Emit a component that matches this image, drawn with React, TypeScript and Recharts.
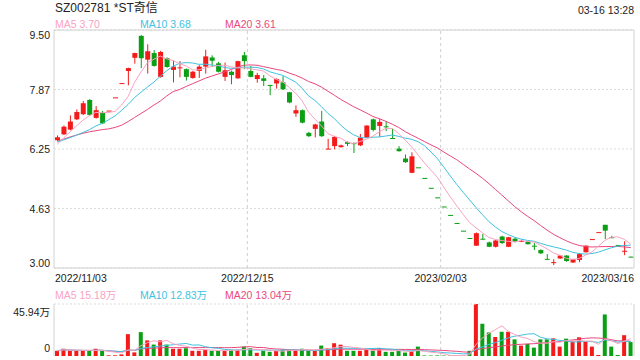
import React from 'react';
import { ComposedChart, Bar, Line, XAxis, YAxis, CartesianGrid, ReferenceLine, Cell } from 'recharts';

const dates = [
  '2022/11/03','2022/11/04','2022/11/07','2022/11/08','2022/11/09','2022/11/10','2022/11/11','2022/11/14','2022/11/15','2022/11/16',
  '2022/11/17','2022/11/18','2022/11/21','2022/11/22','2022/11/23','2022/11/24','2022/11/25','2022/11/28','2022/11/29','2022/11/30',
  '2022/12/01','2022/12/02','2022/12/05','2022/12/06','2022/12/07','2022/12/08','2022/12/09','2022/12/12','2022/12/13','2022/12/14',
  '2022/12/15','2022/12/16','2022/12/19','2022/12/20','2022/12/21','2022/12/22','2022/12/23','2022/12/26','2022/12/27','2022/12/28',
  '2022/12/29','2022/12/30','2023/01/03','2023/01/04','2023/01/05','2023/01/06','2023/01/09','2023/01/10','2023/01/11','2023/01/12',
  '2023/01/13','2023/01/16','2023/01/17','2023/01/18','2023/01/19','2023/01/20','2023/01/30','2023/01/31','2023/02/01','2023/02/02',
  '2023/02/03','2023/02/06','2023/02/07','2023/02/08','2023/02/09','2023/02/10','2023/02/13','2023/02/14','2023/02/15','2023/02/16',
  '2023/02/17','2023/02/20','2023/02/21','2023/02/22','2023/02/23','2023/02/24','2023/02/27','2023/02/28','2023/03/01','2023/03/02',
  '2023/03/03','2023/03/06','2023/03/07','2023/03/08','2023/03/09','2023/03/10','2023/03/13','2023/03/14','2023/03/15','2023/03/16',
];

const opens = [
  6.49, 6.65, 6.78, 7.06, 7.20, 7.59, 7.10, 7.24, 7.30, 7.66,
  8.05, 8.38, 8.74, 9.34, 8.69, 8.87, 8.22, 8.73, 8.41, 8.47,
  8.43, 8.19, 8.38, 8.50, 8.75, 8.59, 8.22, 8.36, 8.18, 8.81,
  8.38, 8.16, 8.18, 8.00, 8.04, 8.07, 7.80, 7.22, 7.31, 6.69,
  6.80, 7.00, 6.25, 6.33, 6.30, 6.44, 6.41, 6.35, 6.56, 7.06,
  6.88, 6.87, 6.55, 6.26, 5.99, 5.60, 5.75, 5.46, 5.19, 4.93,
  4.68, 4.45, 4.23, 4.02, 3.82, 3.61, 3.80, 3.70, 3.58, 3.86,
  3.58, 3.80, 3.73, 3.72, 3.61, 3.49, 3.25, 3.15, 3.26, 3.34,
  3.15, 3.22, 3.43, 3.79, 3.98, 4.18, 3.84, 3.63, 3.45, 3.31,
];
const closes = [
  6.57, 6.86, 7.00, 7.26, 7.50, 7.18, 7.31, 6.95, 7.30, 7.66,
  8.05, 8.46, 8.87, 8.73, 8.92, 8.52, 8.90, 8.49, 8.50, 8.48,
  8.22, 8.36, 8.50, 8.78, 8.66, 8.36, 8.40, 8.27, 8.65, 8.65,
  8.22, 8.27, 8.11, 7.99, 8.16, 7.88, 7.52, 7.31, 6.97, 6.60,
  6.92, 6.60, 6.26, 6.58, 6.35, 6.39, 6.40, 6.56, 6.89, 6.77,
  6.99, 6.86, 6.54, 6.19, 5.89, 6.05, 5.75, 5.46, 5.19, 4.93,
  4.68, 4.45, 4.23, 4.02, 3.82, 3.95, 3.79, 3.58, 3.75, 3.68,
  3.84, 3.72, 3.74, 3.65, 3.60, 3.40, 3.24, 3.16, 3.34, 3.19,
  3.24, 3.38, 3.61, 3.79, 3.98, 4.02, 3.82, 3.63, 3.47, 3.30,
];
const highs = [
  6.62, 6.89, 7.17, 7.33, 7.56, 7.61, 7.42, 7.29, 7.30, 7.66,
  8.05, 8.47, 8.88, 9.36, 9.11, 8.95, 8.93, 8.75, 8.66, 8.65,
  8.45, 8.38, 8.54, 8.96, 8.81, 8.63, 8.61, 8.39, 8.66, 8.90,
  8.52, 8.33, 8.27, 8.00, 8.18, 8.24, 7.81, 7.44, 7.33, 6.72,
  6.94, 7.29, 6.53, 6.61, 6.37, 6.46, 6.43, 6.66, 6.90, 7.08,
  7.08, 7.01, 6.80, 6.33, 6.10, 6.16, 5.75, 5.46, 5.19, 4.93,
  4.68, 4.45, 4.23, 4.02, 3.82, 3.97, 3.93, 3.72, 3.77, 3.88,
  3.85, 3.83, 3.78, 3.73, 3.68, 3.51, 3.38, 3.24, 3.36, 3.35,
  3.25, 3.41, 3.62, 3.79, 3.98, 4.18, 3.88, 3.63, 3.73, 3.31,
];
const lows = [
  6.47, 6.63, 6.76, 7.04, 7.18, 7.16, 7.08, 6.93, 7.30, 7.66,
  8.05, 7.99, 8.58, 8.46, 8.31, 8.50, 8.20, 8.47, 8.07, 8.21,
  8.12, 8.17, 8.19, 8.31, 8.49, 8.34, 8.11, 8.02, 8.17, 8.43,
  8.21, 8.06, 7.97, 7.72, 7.90, 7.86, 7.50, 7.13, 6.95, 6.58,
  6.57, 6.58, 6.25, 6.24, 6.29, 6.33, 6.14, 6.33, 6.55, 6.73,
  6.58, 6.74, 6.53, 6.18, 5.87, 5.59, 5.75, 5.46, 5.19, 4.93,
  4.68, 4.45, 4.23, 4.02, 3.82, 3.60, 3.78, 3.57, 3.56, 3.66,
  3.57, 3.70, 3.71, 3.64, 3.49, 3.38, 3.23, 3.08, 3.25, 3.17,
  3.14, 3.16, 3.42, 3.79, 3.98, 3.79, 3.82, 3.63, 3.35, 3.30,
];
// volume in 万
const volumes = [
  4.6, 6.4, 4.6, 4.6, 4.6, 4.6, 6.4, 4.6, 0.6, 0.6,
  1.4, 19.3, 3.2, 21.1, 13.8, 10.1, 13.8, 10.1, 6.4, 6.4,
  6.9, 4.6, 4.6, 5.5, 4.6, 4.6, 4.6, 5.5, 5.5, 8.3,
  6.9, 2.8, 4.6, 3.7, 4.6, 5.5, 5.5, 5.5, 6.4, 4.6,
  4.6, 9.2, 7.0, 11.3, 10.0, 4.6, 4.6, 4.6, 5.8, 4.6,
  7.0, 3.7, 3.7, 4.6, 3.0, 4.6, 8.3, 0.5, 0.4, 0.5,
  0.4, 0.4, 0.4, 0.4, 4.6, 45.94, 28.5, 20.8, 16.8, 21.4,
  21.4, 14.7, 9.2, 10.7, 7.4, 14.7, 14.7, 15.6, 8.3, 15.3,
  12.9, 16.5, 12.9, 8.3, 0.9, 36.7, 8.3, 0.9, 18.4, 12.3,
];

const ma5Lead = [6.38, 6.55, 6.72, 6.88];
const ma10Lead = [6.44, 6.50, 6.56, 6.63, 6.70, 6.78, 6.88, 6.95, 7.05];
const ma20Lead = [6.46, 6.52, 6.58, 6.63, 6.68, 6.72, 6.75, 6.78, 6.80, 6.84, 6.90, 7.00, 7.11, 7.22, 7.33, 7.45, 7.56, 7.70, 7.82];

const priceTicks = [3, 4.625, 6.25, 7.875, 9.5];
const priceTickLabels = ['3.00', '4.63', '6.25', '7.87', '9.50'];
const volTicks = [0, 45.94];
const volTickLabels = ['0', '45.94万'];
const dateTickIdx = [0, 30, 60, 89];
const markerIdx = [30, 60];

const title = 'SZ002781 *ST奇信';
const timeLabel = '03-16 13:28';
const priceLegend = [
  { name: 'MA5', value: '3.70' },
  { name: 'MA10', value: '3.68' },
  { name: 'MA20', value: '3.61' },
];
const volLegend = [
  { name: 'MA5', value: '15.18万' },
  { name: 'MA10', value: '12.83万' },
  { name: 'MA20', value: '13.04万' },
];

const RED = '#f41a1a';
const GREEN = '#0a9f14';
const MA5C = '#f9a3c2';
const MA10C = '#3fc2df';
const MA20C = '#e9487d';
const BORDER = '#d2d2d2';
const GRID = '#dcdcdc';
const FONT = '"Liberation Sans", Arial, "Noto Sans CJK SC", sans-serif';
const legendColors = [MA5C, MA10C, MA20C];

const W = 640;
const PLOT_LEFT = 54;
const PLOT_RIGHT = 6;
const N = dates.length;
const HALF_BAND = (W - PLOT_LEFT - PLOT_RIGHT) / N / 2;

function movingAvg(vals: number[], n: number, lead?: number[]) {
  return vals.map((_, i) => {
    if (i < n - 1) {
      if (lead) return lead[i];
      const s = vals.slice(0, i + 1);
      return s.reduce((a, b) => a + b, 0) / s.length;
    }
    const s = vals.slice(i - n + 1, i + 1);
    return s.reduce((a, b) => a + b, 0) / n;
  });
}

const ma5 = movingAvg(closes, 5, ma5Lead);
const ma10 = movingAvg(closes, 10, ma10Lead);
const ma20 = movingAvg(closes, 20, ma20Lead);
const vma5 = movingAvg(volumes, 5);
const vma10 = movingAvg(volumes, 10);
const vma20 = movingAvg(volumes, 20);

const data = dates.map((d, i) => {
  const o = opens[i];
  const c = closes[i];
  const prev = i > 0 ? closes[i - 1] : o;
  const up = c > o ? true : c < o ? false : c >= prev;
  return {
    date: d,
    open: o,
    close: c,
    high: highs[i],
    low: lows[i],
    vol: volumes[i],
    up,
    ma5: ma5[i],
    ma10: ma10[i],
    ma20: ma20[i],
    vma5: vma5[i],
    vma10: vma10[i],
    vma20: vma20[i],
  };
});

const Candle = (props: any) => {
  const { x, y, width, height, payload } = props;
  if (x == null || y == null || !payload) return null;
  const { open, close, high, low, up } = payload;
  const cx = x + width / 2;
  const top = Math.min(y, y + (height || 0));
  const h = Math.abs(height || 0);
  const span = high - low;
  const ppu = span > 0 ? h / span : 0;
  const yOf = (v: number) => top + (high - v) * ppu;
  const color = up ? RED : GREEN;
  const bTop = yOf(Math.max(open, close));
  const bBot = yOf(Math.min(open, close));
  const bw = 5;
  return (
    <g>
      {span > 0 && <line x1={cx} x2={cx} y1={top} y2={top + h} stroke={color} strokeWidth={1} />}
      <rect x={cx - bw / 2} y={bTop} width={bw} height={Math.max(1, bBot - bTop)} fill={color} />
    </g>
  );
};

const PriceTick = (props: any) => {
  const { x, y, payload } = props;
  const idx = priceTicks.indexOf(payload.value);
  const label = priceTickLabels[idx] ?? '';
  let dy = 4;
  if (idx === priceTicks.length - 1) dy = 9;
  if (idx === 0) dy = -1;
  return (
    <text x={x} y={y + dy} textAnchor="end" fontSize={10.5} fill="#222" fontFamily={FONT}>
      {label}
    </text>
  );
};

const VolTick = (props: any) => {
  const { x, y, payload } = props;
  const idx = volTicks.indexOf(payload.value);
  const label = volTickLabels[idx] ?? '';
  const dy = idx === 0 ? -4 : 12;
  return (
    <text x={x} y={y + dy} textAnchor="end" fontSize={10.5} fill="#222" fontFamily={FONT}>
      {label}
    </text>
  );
};

const DateTick = (props: any) => {
  const { x, payload } = props;
  const i = dates.indexOf(payload.value);
  let anchor: 'start' | 'middle' | 'end' = 'middle';
  let tx = x - HALF_BAND;
  if (i === 0) {
    anchor = 'start';
    tx = x - HALF_BAND + 1;
  } else if (i === N - 1) {
    anchor = 'end';
    tx = x + HALF_BAND;
  }
  return (
    <text x={tx} y={282} textAnchor={anchor} fontSize={10.5} fill="#222" fontFamily={FONT}>
      {payload.value}
    </text>
  );
};

export default function App() {
  return (
    <div style={{ position: 'absolute', left: 0, top: 0, width: 640, height: 360, background: '#fff', overflow: 'hidden' }}>
      <div style={{ position: 'absolute', left: 0, top: 0 }}>
        <ComposedChart width={640} height={290} data={data} margin={{ top: 30, right: PLOT_RIGHT, bottom: 0, left: 0 }}>
          <CartesianGrid vertical={false} stroke={GRID} strokeDasharray="2 2" />
          <XAxis
            dataKey="date"
            ticks={dateTickIdx.map((i) => dates[i])}
            interval={0}
            tickLine={false}
            axisLine={false}
            height={22}
            tick={<DateTick />}
          />
          <YAxis
            domain={[3, 9.5]}
            ticks={priceTicks}
            interval={0}
            allowDataOverflow
            width={54}
            tickLine={false}
            tickSize={4}
            tickMargin={0}
            axisLine={{ stroke: BORDER }}
            tick={<PriceTick />}
          />
          <ReferenceLine y={9.5} stroke={BORDER} />
          <ReferenceLine y={3} stroke={BORDER} />
          <ReferenceLine x={dates[N - 1]} position="end" stroke={BORDER} />
          {markerIdx.map((i) => (
            <ReferenceLine key={i} x={dates[i]} position="start" stroke="#cfcfcf" strokeDasharray="3 3" />
          ))}
          <Bar dataKey={(d: any) => [d.low, d.high]} barSize={5} shape={<Candle />} isAnimationActive={false} />
          <Line dataKey="ma20" stroke={MA20C} strokeWidth={1} dot={false} isAnimationActive={false} />
          <Line dataKey="ma10" stroke={MA10C} strokeWidth={1} dot={false} isAnimationActive={false} />
          <Line dataKey="ma5" stroke={MA5C} strokeWidth={1} dot={false} isAnimationActive={false} />
        </ComposedChart>
      </div>
      <div style={{ position: 'absolute', left: 0, top: 300 }}>
        <ComposedChart width={640} height={60} data={data} margin={{ top: 4, right: PLOT_RIGHT, bottom: 4, left: 0 }}>
          <XAxis dataKey="date" hide />
          <YAxis
            domain={[0, 45.94]}
            ticks={volTicks}
            interval={0}
            allowDataOverflow
            width={54}
            tickLine={false}
            tickSize={4}
            tickMargin={0}
            axisLine={{ stroke: BORDER }}
            tick={<VolTick />}
          />
          <ReferenceLine y={45.94} stroke={GRID} strokeDasharray="2 2" />
          <ReferenceLine x={dates[N - 1]} position="end" stroke={BORDER} />
          {markerIdx.map((i) => (
            <ReferenceLine key={i} x={dates[i]} position="start" stroke="#cfcfcf" strokeDasharray="3 3" />
          ))}
          <Bar dataKey="vol" barSize={4} isAnimationActive={false}>
            {data.map((d, i) => (
              <Cell key={i} fill={d.up ? RED : GREEN} />
            ))}
          </Bar>
          <Line dataKey="vma20" stroke={MA20C} strokeWidth={1} dot={false} isAnimationActive={false} />
          <Line dataKey="vma10" stroke={MA10C} strokeWidth={1} dot={false} isAnimationActive={false} />
          <Line dataKey="vma5" stroke={MA5C} strokeWidth={1} dot={false} isAnimationActive={false} />
        </ComposedChart>
      </div>
      <svg width={640} height={360} style={{ position: 'absolute', left: 0, top: 0, pointerEvents: 'none' }} fontFamily={FONT}>
        <text x={55} y={12} fontSize={12} fill="#222">{title}</text>
        <text x={634} y={14} fontSize={10.5} fill="#222" textAnchor="end">{timeLabel}</text>
        {priceLegend.map((l, i) => (
          <text key={'p' + i} x={55 + i * 85} y={28} fontSize={10.5} fill={legendColors[i]}>
            {l.name + ' ' + l.value}
          </text>
        ))}
        {volLegend.map((l, i) => (
          <text key={'v' + i} x={55 + i * 85} y={299} fontSize={10.5} fill={legendColors[i]}>
            {l.name + ' ' + l.value}
          </text>
        ))}
      </svg>
    </div>
  );
}
